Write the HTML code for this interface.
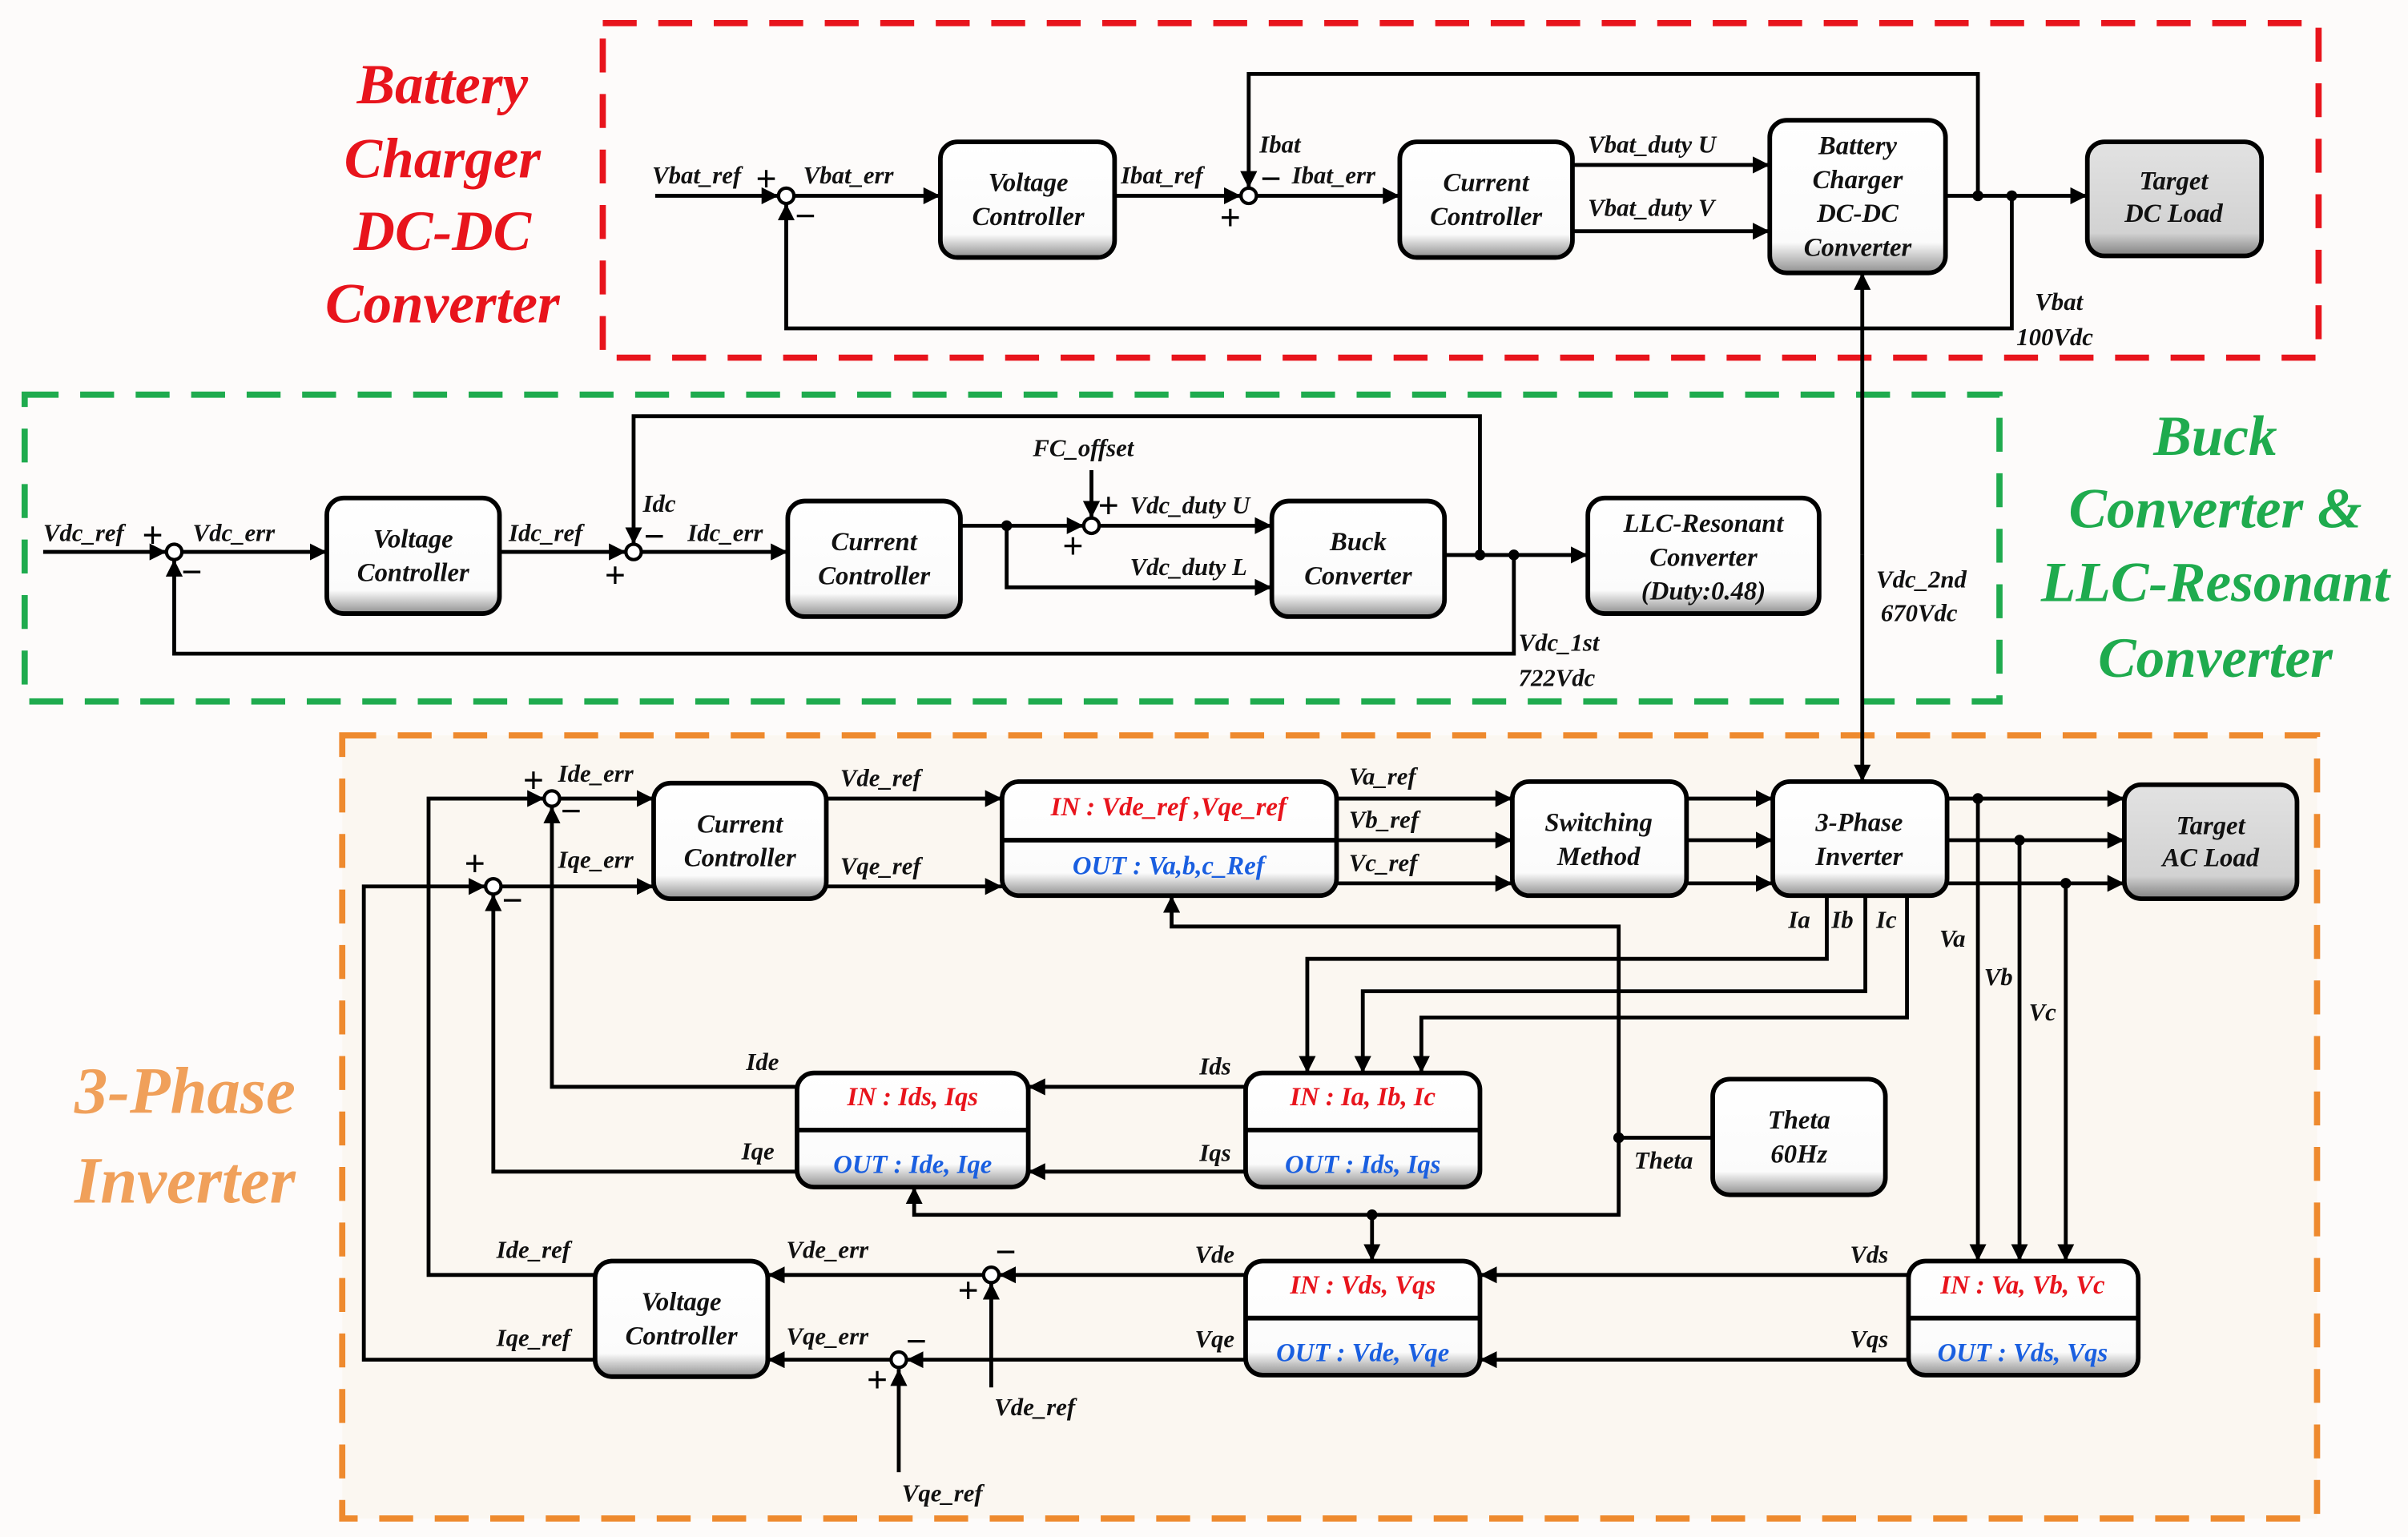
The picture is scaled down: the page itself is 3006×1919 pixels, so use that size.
<!DOCTYPE html>
<html><head><meta charset="utf-8"><style>
html,body{margin:0;padding:0;background:#fdfbfa;}
svg{display:block;}
text{font-family:"Liberation Serif",serif;font-weight:bold;font-style:italic;}
</style></head><body>
<svg width="3006" height="1919" viewBox="0 0 1562 997" preserveAspectRatio="none" xmlns="http://www.w3.org/2000/svg">
<defs>
<linearGradient id="g" x1="0" y1="0" x2="0" y2="1"><stop offset="0" stop-color="#fff"/><stop offset="0.8" stop-color="#fbfbfb"/><stop offset="1" stop-color="#909090"/></linearGradient>
<linearGradient id="gg" x1="0" y1="0" x2="0" y2="1"><stop offset="0" stop-color="#e2e2e2"/><stop offset="0.8" stop-color="#d2d2d2"/><stop offset="1" stop-color="#808080"/></linearGradient>
<marker id="a" viewBox="0 0 10 10" refX="10" refY="5" markerWidth="11" markerHeight="11" markerUnits="userSpaceOnUse" orient="auto"><path d="M0,0 L10,5 L0,10 z" fill="#000"/></marker>
</defs>
<rect width="1562" height="997" fill="#fdfbfa"/>
<rect x="222" y="477" width="1281" height="508" fill="#fbf7f1"/>
<g fill="none" stroke-width="4" stroke-dasharray="22,14">
<rect x="391" y="15" width="1113" height="217" stroke="#e8141c"/>
<rect x="16" y="256" width="1281" height="199" stroke="#1fab4e"/>
<rect x="222" y="477" width="1281" height="508" stroke="#ee8a2e"/>
</g>
<g font-size="37" text-anchor="middle" fill="#e8141c">
<text x="287" y="67">Battery</text><text x="287" y="115">Charger</text><text x="287" y="162">DC-DC</text><text x="287" y="209">Converter</text>
</g>
<g font-size="37" text-anchor="middle" fill="#1fab4e">
<text x="1437" y="295">Buck</text><text x="1437" y="342">Converter &amp;</text><text x="1437" y="390">LLC-Resonant</text><text x="1437" y="439">Converter</text>
</g>
<g font-size="43" text-anchor="middle" fill="#f0a05a">
<text x="120" y="722">3-Phase</text><text x="120" y="780">Inverter</text>
</g>
<g stroke="#000" stroke-width="3" fill="url(#g)">
<rect x="610" y="92" width="113" height="75" rx="11"/>
<rect x="908" y="92" width="112" height="75" rx="11"/>
<rect x="1148" y="78" width="114" height="99" rx="11"/>
<rect x="1354" y="92" width="113" height="74" rx="11" fill="url(#gg)"/>
<rect x="212" y="323" width="112" height="75" rx="11"/>
<rect x="511" y="325" width="112" height="75" rx="11"/>
<rect x="825" y="325" width="112" height="75" rx="11"/>
<rect x="1030" y="323" width="150" height="75" rx="11"/>
<rect x="424" y="508" width="112" height="75" rx="11"/>
<rect x="650" y="507" width="217" height="74" rx="11"/>
<rect x="981" y="507" width="113" height="74" rx="11"/>
<rect x="1150" y="507" width="113" height="74" rx="11"/>
<rect x="1378" y="509" width="112" height="74" rx="11" fill="url(#gg)"/>
<rect x="517" y="696" width="150" height="74" rx="11"/>
<rect x="808" y="696" width="152" height="74" rx="11"/>
<rect x="1111" y="700" width="112" height="75" rx="11"/>
<rect x="386" y="818" width="112" height="75" rx="11"/>
<rect x="808" y="818" width="152" height="74" rx="11"/>
<rect x="1238" y="818" width="149" height="74" rx="11"/>
</g>
<g stroke="#000" stroke-width="3">
<line x1="650" y1="545" x2="867" y2="545"/>
<line x1="517" y1="733" x2="667" y2="733"/>
<line x1="808" y1="733" x2="960" y2="733"/>
<line x1="808" y1="855" x2="960" y2="855"/>
<line x1="1238" y1="855" x2="1387" y2="855"/>
</g>
<g font-size="17" text-anchor="middle" fill="#111">
<text x="667" y="124">Voltage</text><text x="667" y="146">Controller</text>
<text x="964" y="124">Current</text><text x="964" y="146">Controller</text>
<text x="1205" y="100">Battery</text><text x="1205" y="122">Charger</text><text x="1205" y="144">DC-DC</text><text x="1205" y="166">Converter</text>
<text x="1410" y="123">Target</text><text x="1410" y="144">DC Load</text>
<text x="268" y="355">Voltage</text><text x="268" y="377">Controller</text>
<text x="567" y="357">Current</text><text x="567" y="379">Controller</text>
<text x="881" y="357">Buck</text><text x="881" y="379">Converter</text>
<text x="1105" y="345">LLC-Resonant</text><text x="1105" y="367">Converter</text><text x="1105" y="389">(Duty:0.48)</text>
<text x="480" y="540">Current</text><text x="480" y="562">Controller</text>
<text x="1037" y="539">Switching</text><text x="1037" y="561">Method</text>
<text x="1206" y="539">3-Phase</text><text x="1206" y="561">Inverter</text>
<text x="1434" y="541">Target</text><text x="1434" y="562">AC Load</text>
<text x="1167" y="732">Theta</text><text x="1167" y="754">60Hz</text>
<text x="442" y="850">Voltage</text><text x="442" y="872">Controller</text>
</g>
<g font-size="17" text-anchor="middle">
<text x="758" y="529" fill="#e8141c">IN : Vde_ref ,Vqe_ref</text>
<text x="758" y="567" fill="#1a5fe0">OUT : Va,b,c_Ref</text>
<text x="592" y="717" fill="#e8141c">IN : Ids, Iqs</text>
<text x="592" y="761" fill="#1a5fe0">OUT : Ide, Iqe</text>
<text x="884" y="717" fill="#e8141c">IN : Ia, Ib, Ic</text>
<text x="884" y="761" fill="#1a5fe0">OUT : Ids, Iqs</text>
<text x="884" y="839" fill="#e8141c">IN : Vds, Vqs</text>
<text x="884" y="883" fill="#1a5fe0">OUT : Vde, Vqe</text>
<text x="1312" y="839" fill="#e8141c">IN : Va, Vb, Vc</text>
<text x="1312" y="883" fill="#1a5fe0">OUT : Vds, Vqs</text>
</g>
<g fill="none" stroke="#000" stroke-width="2.5" marker-end="url(#a)">
<polyline points="425,127 505,127"/>
<polyline points="515,127 610,127"/>
<polyline points="723,127 805,127"/>
<polyline points="1283,127 1283,48 810,48 810,122"/>
<polyline points="815,127 908,127"/>
<polyline points="1020,107 1148,107"/>
<polyline points="1020,150 1148,150"/>
<polyline points="1262,127 1354,127"/>
<polyline points="1305,127 1305,213 510,213 510,132"/>
<polyline points="1208,360 1208,177"/>
<polyline points="1208,360 1208,507"/>
<polyline points="28,358 108,358"/>
<polyline points="118,358 212,358"/>
<polyline points="324,358 406,358"/>
<polyline points="960,360 960,270 411,270 411,353"/>
<polyline points="416,358 511,358"/>
<polyline points="623,341 703,341"/>
<polyline points="708,305 708,336"/>
<polyline points="713,341 825,341"/>
<polyline points="653,341 653,381 825,381"/>
<polyline points="937,360 1030,360"/>
<polyline points="982,360 982,424 113,424 113,363"/>
<polyline points="363,518 424,518"/>
<polyline points="325,575 424,575"/>
<polyline points="536,518 650,518"/>
<polyline points="536,575 650,575"/>
<polyline points="867,518 981,518"/>
<polyline points="867,545 981,545"/>
<polyline points="867,573 981,573"/>
<polyline points="1094,518 1150,518"/>
<polyline points="1094,545 1150,545"/>
<polyline points="1094,573 1150,573"/>
<polyline points="1263,518 1378,518"/>
<polyline points="1263,545 1378,545"/>
<polyline points="1263,573 1378,573"/>
<polyline points="1283,518 1283,818"/>
<polyline points="1310,545 1310,818"/>
<polyline points="1340,573 1340,818"/>
<polyline points="1185,581 1185,622 848,622 848,696"/>
<polyline points="1210,581 1210,643 884,643 884,696"/>
<polyline points="1237,581 1237,660 922,660 922,696"/>
<polyline points="1050,738 1050,601 760,601 760,581"/>
<polyline points="1050,738 1050,788 593,788 593,770"/>
<polyline points="890,788 890,818"/>
<polyline points="808,705 667,705"/>
<polyline points="808,760 667,760"/>
<polyline points="517,705 358,705 358,523"/>
<polyline points="517,760 320,760 320,580"/>
<polyline points="1238,827 960,827"/>
<polyline points="1238,882 960,882"/>
<polyline points="808,827 648,827"/>
<polyline points="808,882 588,882"/>
<polyline points="643,900 643,832"/>
<polyline points="583,955 583,888"/>
<polyline points="638,827 498,827"/>
<polyline points="578,882 498,882"/>
<polyline points="386,827 278,827 278,518 353,518"/>
<polyline points="386,882 236,882 236,575 315,575"/>
</g>
<line x1="1111" y1="738" x2="1050" y2="738" stroke="#000" stroke-width="2.5"/>
<g fill="#fff" stroke="#000" stroke-width="2.2">
<circle cx="510" cy="127" r="5"/><circle cx="810" cy="127" r="5"/>
<circle cx="113" cy="358" r="5"/><circle cx="411" cy="358" r="5"/><circle cx="708" cy="341" r="5"/>
<circle cx="358" cy="518" r="5"/><circle cx="320" cy="575" r="5"/>
<circle cx="643" cy="827" r="5"/><circle cx="583" cy="882" r="5"/>
</g>
<g fill="#000">
<circle cx="1283" cy="127" r="3.5"/><circle cx="1305" cy="127" r="3.5"/>
<circle cx="653" cy="341" r="3.5"/><circle cx="960" cy="360" r="3.5"/><circle cx="982" cy="360" r="3.5"/>
<circle cx="1283" cy="518" r="3.5"/><circle cx="1310" cy="545" r="3.5"/><circle cx="1340" cy="573" r="3.5"/>
<circle cx="1050" cy="738" r="3.5"/><circle cx="890" cy="788" r="3.5"/>
</g>
<g font-size="24" font-weight="bold" font-style="normal" fill="#000" font-family="Liberation Sans, sans-serif">
<text x="490" y="124">+</text><text x="515" y="148">−</text>
<text x="791" y="149">+</text><text x="817" y="124">−</text>
<text x="92" y="355">+</text><text x="117" y="379">−</text>
<text x="392" y="381">+</text><text x="417" y="356">−</text>
<text x="689" y="362">+</text><text x="712" y="336">+</text>
<text x="339" y="514">+</text><text x="363" y="534">−</text>
<text x="301" y="568">+</text><text x="325" y="592">−</text>
<text x="645" y="820">−</text><text x="621" y="845">+</text>
<text x="587" y="878">−</text><text x="562" y="903">+</text>
</g>
<g font-size="16" fill="#111">
<text x="423" y="119">Vbat_ref</text><text x="521" y="119">Vbat_err</text>
<text x="727" y="119">Ibat_ref</text><text x="817" y="99">Ibat</text><text x="838" y="119">Ibat_err</text>
<text x="1030" y="99">Vbat_duty U</text><text x="1030" y="140">Vbat_duty V</text>
<text x="1320" y="201">Vbat</text><text x="1308" y="224">100Vdc</text>
<text x="28" y="351">Vdc_ref</text><text x="125" y="351">Vdc_err</text>
<text x="330" y="351">Idc_ref</text><text x="417" y="332">Idc</text><text x="446" y="351">Idc_err</text>
<text x="670" y="296">FC_offset</text>
<text x="733" y="333">Vdc_duty U</text><text x="733" y="373">Vdc_duty L</text>
<text x="985" y="422">Vdc_1st</text><text x="985" y="445">722Vdc</text>
<text x="1217" y="381">Vdc_2nd</text><text x="1220" y="403">670Vdc</text>
<text x="362" y="507">Ide_err</text><text x="362" y="563">Iqe_err</text>
<text x="545" y="510">Vde_ref</text><text x="545" y="567">Vqe_ref</text>
<text x="875" y="509">Va_ref</text><text x="875" y="537">Vb_ref</text><text x="875" y="565">Vc_ref</text>
<text x="1160" y="602">Ia</text><text x="1188" y="602">Ib</text><text x="1217" y="602">Ic</text>
<text x="1258" y="614">Va</text><text x="1287" y="639">Vb</text><text x="1316" y="662">Vc</text>
<text x="484" y="694">Ide</text><text x="481" y="752">Iqe</text>
<text x="778" y="697">Ids</text><text x="778" y="753">Iqs</text>
<text x="1060" y="758">Theta</text>
<text x="322" y="816">Ide_ref</text><text x="322" y="873">Iqe_ref</text>
<text x="510" y="816">Vde_err</text><text x="510" y="872">Vqe_err</text>
<text x="775" y="819">Vde</text><text x="775" y="874">Vqe</text>
<text x="1200" y="819">Vds</text><text x="1200" y="874">Vqs</text>
<text x="645" y="918">Vde_ref</text><text x="585" y="974">Vqe_ref</text>
</g>
</svg>
</body></html>
